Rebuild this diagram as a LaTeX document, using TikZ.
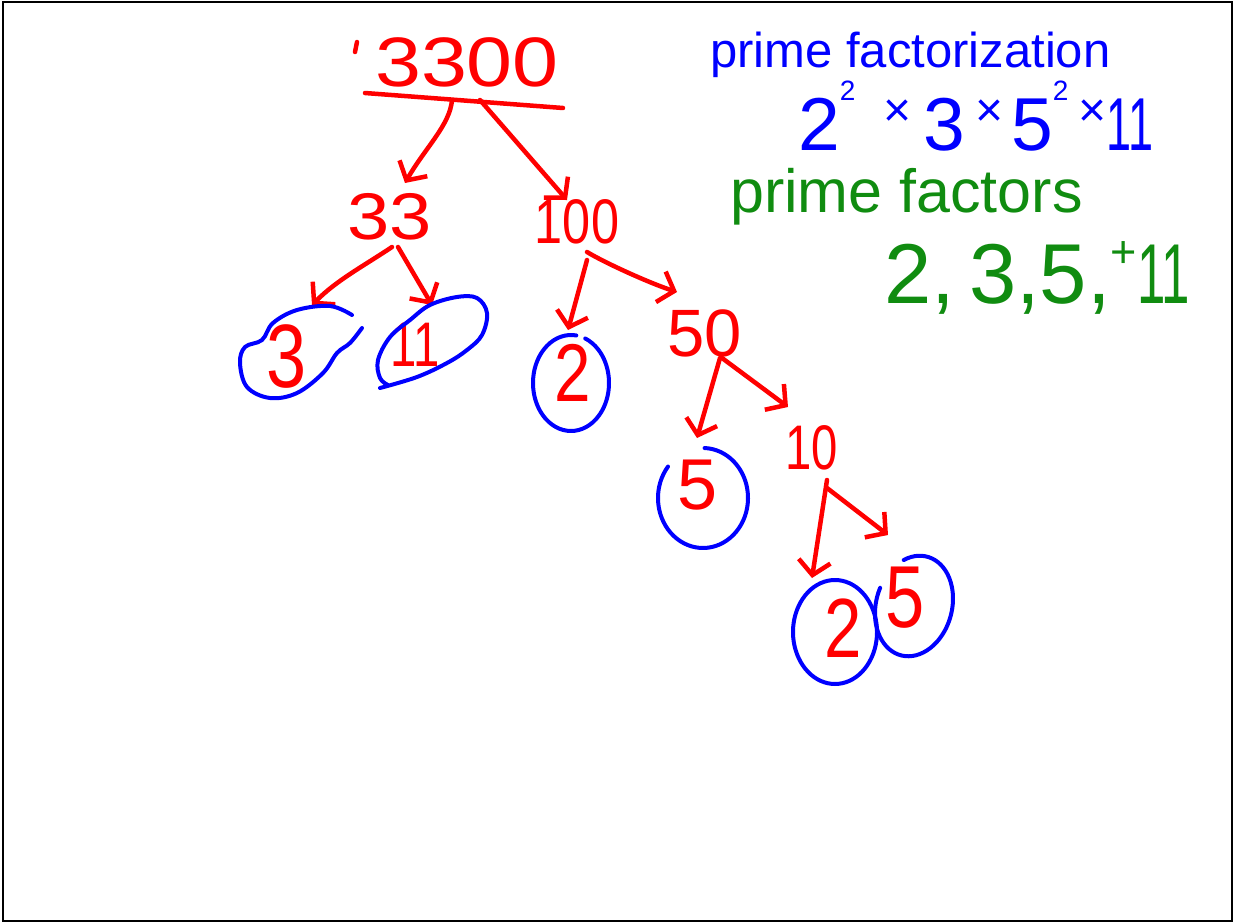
\documentclass[tikz,border=0pt]{standalone}
\usepackage{fontspec}
\newfontfamily\hand{Liberation Sans}
\usetikzlibrary{arrows.meta}
\definecolor{hred}{RGB}{255,0,0}
\definecolor{hblue}{RGB}{0,0,255}
\definecolor{hgreen}{RGB}{16,140,16}
\newcommand\fs[1]{\fontsize{#1}{#1}\selectfont}
\newcommand\supt{\raisebox{50pt}{\fs{28}2}}
\newcommand\tms{\raisebox{24pt}{\fs{48}×}}
\begin{document}
\begin{tikzpicture}[x=1pt,y=-1pt,
  num/.style={text=hred, inner sep=0pt},
  redline/.style={draw=hred, line width=4.5pt, line cap=round, line join=round},
  arr/.style={redline, -{Straight Barb[length=14pt,width=32pt]}},
  ring/.style={draw=hblue, line width=4pt, line cap=round, line join=round},
  btext/.style={anchor=base west, text=hblue, inner sep=0pt},
  gtext/.style={anchor=base west, text=hgreen, inner sep=0pt}]
\useasboundingbox (0,0) rectangle (1235,924);
\draw[line width=2pt] (3,2) rectangle (1232,921);

% tree numbers
\node[num, font=\hand\fs{70}] (n3300) at (467,62) {\scalebox{1.18}[1]{3300}};
\node[num, font=\hand\fs{66}] (n33) at (390,217) {\scalebox{1.15}[1]{33}};
\node[num, font=\hand\fs{63}] (n100) at (577,222) {\scalebox{0.8}[1]{100}};
\node[num, font=\hand\fs{90}] (n3) at (287,357) {\scalebox{0.8}[1]{3}};
\node[num, font=\hand\fs{63}] (n11) at (415,345) {\scalebox{0.75}[1]{11}};
\node[num, font=\hand\fs{82}] (n2a) at (573,373) {\scalebox{0.8}[1]{2}};
\node[num, font=\hand\fs{67}] (n50) at (705,333) {50};
\node[num, font=\hand\fs{72}] (n5a) at (698,485) {5};
\node[num, font=\hand\fs{63}] (n10) at (812,448) {\scalebox{0.75}[1]{10}};
\node[num, font=\hand\fs{84}] (n2b) at (843,628) {\scalebox{0.8}[1]{2}};
\node[num, font=\hand\fs{88}] (n5b) at (905,598) {\scalebox{0.8}[1]{5}};

% tick and bar
\draw[redline] ([shift={(-110,-20)}]n3300.center) -- ([shift={(-112,-10)}]n3300.center);
\draw[redline] ([shift={(-102,31)}]n3300.center) -- ([shift={(96,46)}]n3300.center);

% arrows
\draw[arr] ([shift={(-15,38)}]n3300.center) .. controls +(-2,25) and +(20,-35) .. ([shift={(15,-34)}]n33.center);
\draw[arr] ([shift={(13,38)}]n3300.center) -- ([shift={(-10,-22)}]n100.center);
\draw[arr] ([shift={(2,30)}]n33.center) .. controls +(-30,20) and +(25,-25) .. ([shift={(25,-52)}]n3.center);
\draw[arr] ([shift={(8,30)}]n33.center) -- ([shift={(17,-40)}]n11.center);
\draw[arr] ([shift={(10,38)}]n100.center) -- ([shift={(-5,-43)}]n2a.center);
\draw[arr] ([shift={(10,30)}]n100.center) .. controls +(20,12) and +(-25,-8) .. ([shift={(-28,-41)}]n50.center);
\draw[arr] ([shift={(15,25)}]n50.center) -- ([shift={(-1,-47)}]n5a.center);
\draw[arr] ([shift={(17,25)}]n50.center) -- ([shift={(-24,-41)}]n10.center);
\draw[arr] ([shift={(15,32)}]n10.center) -- ([shift={(-31,-50)}]n2b.center);
\draw[arr] ([shift={(15,40)}]n10.center) -- ([shift={(-17,-63)}]n5b.center);

% rings
\draw[ring] plot[smooth, tension=0.6] coordinates {(352,315) (330,306) (297,310) (273,323) (262,340) (245,347) (240,363) (247,387) (270,398) (297,393) (323,373) (337,353) (350,343) (362,328)};
\draw[ring] plot[smooth, tension=0.6] coordinates {(380,388) (417,377) (447,363) (467,350) (482,335) (487,313) (477,298) (457,297) (430,305) (410,320) (390,337) (378,360) (380,378) (388,385)};
\draw[ring] plot[smooth, domain=82:428, samples=60] ({571+38*cos(\x)}, {383-48*sin(\x)});
\draw[ring] plot[smooth, domain=141:448, samples=60] ({703+45*cos(\x)}, {498-50*sin(\x)});
\draw[ring] plot[smooth, domain=0:360, samples=73] ({835+42*cos(\x)}, {632-52*sin(\x)});
\draw[ring] plot[smooth, domain=170:485, samples=60] ({914+36.7*cos(\x)+13.2*sin(\x)}, {606+9.8*cos(\x)-49.3*sin(\x)});

% right side texts
\node[btext, font=\hand\fs{49}] (pfz) at (710,67) {prime factorization};
\node[btext, font=\hand\fs{75}] (expr) at (798,150) {2\supt\hspace{28pt}\tms\hspace{12pt}3\hspace{10pt}\tms\hspace{8pt}5\supt\hspace{10pt}\tms\scalebox{0.6}[1]{11}};
\node[gtext, font=\hand\fs{61}] (pfs) at (730,212) {prime factors};
\node[gtext, font=\hand\fs{85}] (plist) at (884,303) {2,\hspace{14pt}3,5,\raisebox{36pt}{\fs{45}+}\scalebox{0.6}[1]{11}};
\end{tikzpicture}
\end{document}
